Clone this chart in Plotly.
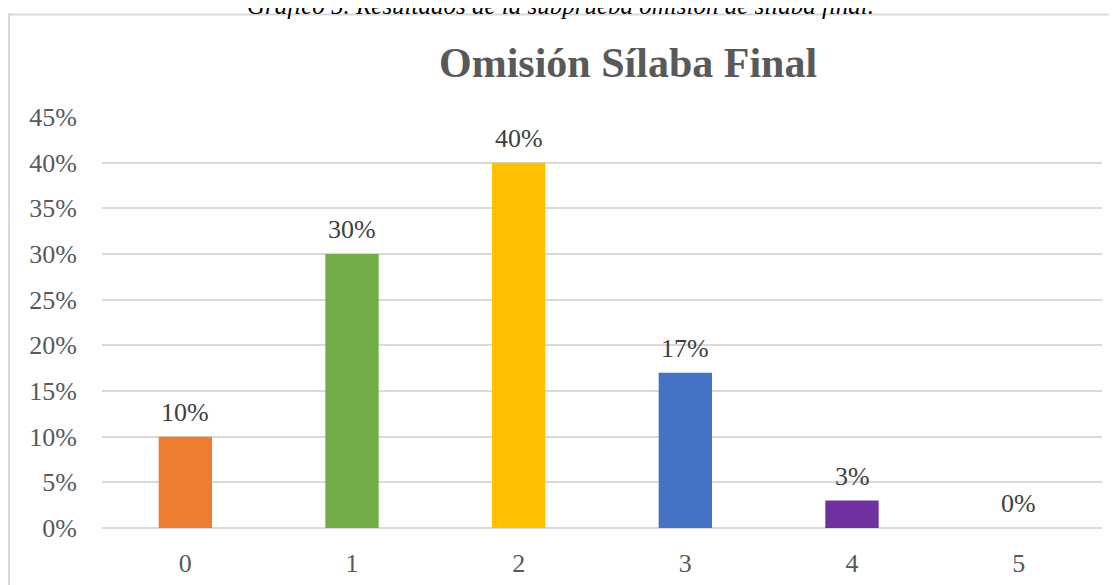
import plotly.graph_objects as go

categories = ["0", "1", "2", "3", "4", "5"]
values = [0.10, 0.30, 0.40, 0.17, 0.03, 0.00]
labels = ["10%", "30%", "40%", "17%", "3%", "0%"]
colors = ["#ED7D31", "#70AD47", "#FFC000", "#4472C4", "#7030A0", "#A5A5A5"]
y_ticks = [0, 0.05, 0.10, 0.15, 0.20, 0.25, 0.30, 0.35, 0.40, 0.45]
y_tick_text = ["0%", "5%", "10%", "15%", "20%", "25%", "30%", "35%", "40%", "45%"]

OFF = 8  # page body margin
W, H = 1117 - OFF, 585 - OFF
L, R, T, B = 102 - OFF, 1102 - OFF, 117 - OFF, 528 - OFF

def px_x(p):
    return (p - OFF - L) / (R - L)

def px_y(p):
    return (B - (p - OFF)) / (B - T)

fig = go.Figure()
fig.add_trace(go.Bar(
    x=categories, y=values, marker=dict(color=colors, line=dict(width=0)),
    width=0.32, hoverinfo="x+y",
))

for c, v, t in zip(categories, values, labels):
    fig.add_annotation(x=c, y=v, text=t, showarrow=False, yanchor="bottom",
                       yshift=8,
                       font=dict(family="Liberation Serif", size=26, color="#404040"))

fig.update_layout(
    width=W, height=H,
    margin=dict(l=L, r=W - R, t=T, b=H - B, autoexpand=False),
    paper_bgcolor="white", plot_bgcolor="white",
    showlegend=False,
    font=dict(family="Liberation Serif", color="#595959"),
    xaxis=dict(showgrid=False, showline=False, zeroline=False, ticks="",
               automargin=False,
               tickfont=dict(size=26, color="#595959"), ticklabelstandoff=17),
    yaxis=dict(range=[0, 0.45], tickvals=y_ticks, ticktext=y_tick_text,
               automargin=False,
               showgrid=True, gridcolor="#D9D9D9", gridwidth=2,
               zeroline=True, zerolinecolor="#D9D9D9", zerolinewidth=2,
               showline=False, ticks="", ticklabelstandoff=24,
               tickfont=dict(size=26, color="#595959")),
)

# outer chart border
fig.add_shape(type="rect", xref="paper", yref="paper",
              x0=px_x(9), x1=px_x(1125), y0=px_y(600), y1=px_y(14.5),
              line=dict(color="#D9D9D9", width=2), fillcolor="rgba(0,0,0,0)",
              layer="below")

fig.add_annotation(text="<b>Omisión Sílaba Final</b>", xref="paper", yref="paper",
                   x=px_x(628), y=px_y(63), xanchor="center", yanchor="middle",
                   showarrow=False,
                   font=dict(family="Liberation Serif", size=42, color="#595959"))

fig.add_annotation(text="<i>Gráfico 5. Resultados de la subprueba omisión de sílaba final.</i>",
                   xref="paper", yref="paper",
                   x=px_x(560), y=px_y(5), xanchor="center", yanchor="middle",
                   showarrow=False,
                   font=dict(family="Liberation Serif", size=25, color="#000000"))

fig.write_html("out.html")
